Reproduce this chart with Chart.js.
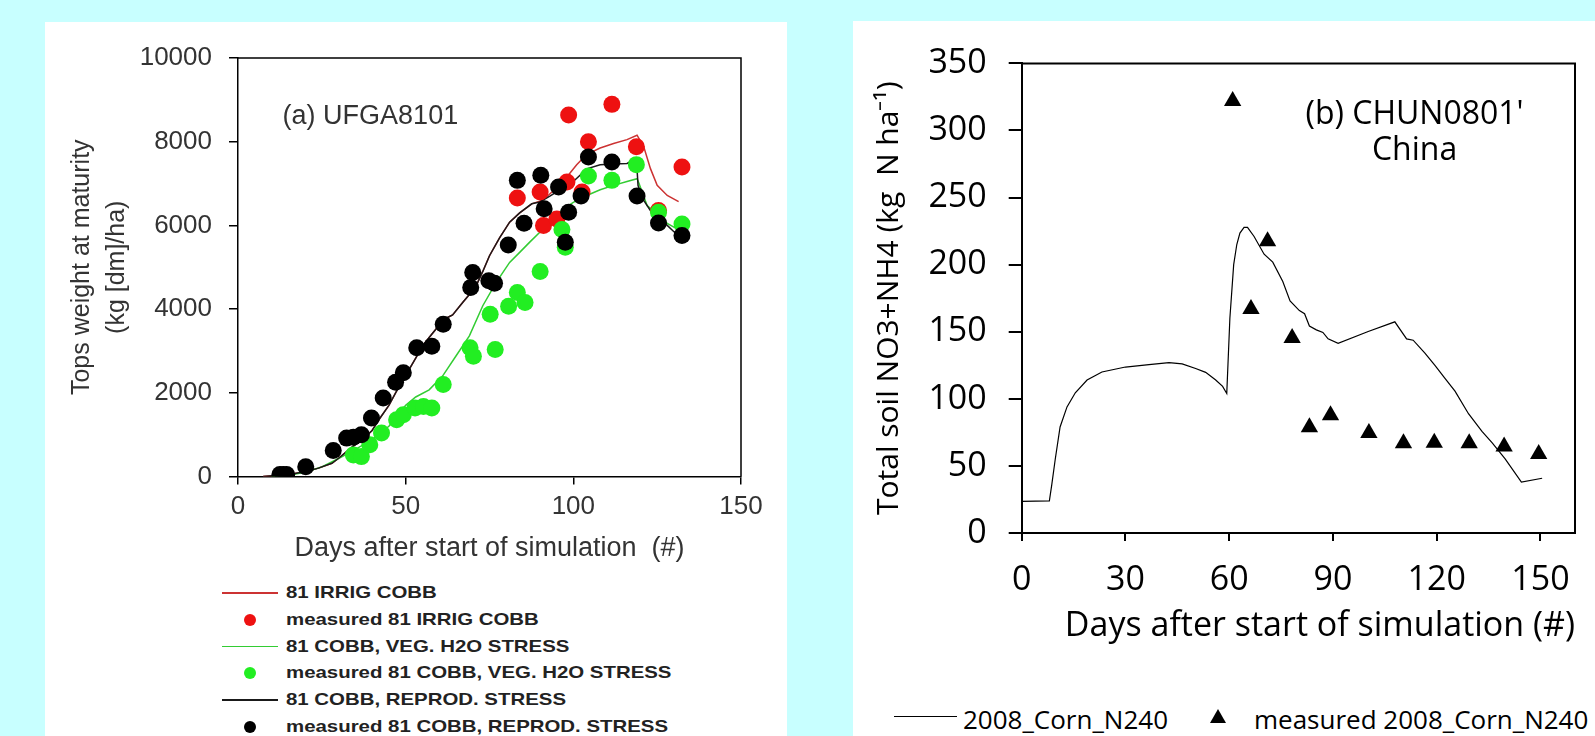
<!DOCTYPE html>
<html>
<head>
<meta charset="utf-8">
<style>
    body {
        margin: 0;
        width: 1595px;
        height: 736px;
        overflow: hidden;
        background-color: #c8ffff;
        position: relative;
    }
    .panel {
        position: absolute;
        background: white;
    }
    #panelLeft { left: 45px; top: 22px; width: 742px; height: 714px; }
    #panelRight { left: 853px; top: 21px; width: 742px; height: 715px; }
    .chart-box { position: absolute; left: 0; top: 0; width: 742px; }
    #panelLeft .chart-box { height: 543px; }
    #panelRight .chart-box { height: 626px; }

    /* legend under panel (a) */
    .legend-a .row {
        position: absolute;
        left: 0;
        height: 20px;
        width: 700px;
    }
    .legend-a .line { position: absolute; left: 177px; width: 56px; top: 9px; height: 1.5px; }
    .legend-a .dot { position: absolute; left: 199px; top: 4px; width: 12px; height: 12px; border-radius: 50%; }
    .legend-a .txt {
        position: absolute;
        left: 241px;
        top: 0;
        line-height: 20px;
        font: bold 17px 'Liberation Sans', Arial, sans-serif;
        color: #222;
        white-space: nowrap;
        transform: scaleX(1.2);
        transform-origin: left center;
    }

    /* legend under panel (b) */
    .legend-b { position: absolute; left: 0; top: 680px; height: 30px; width: 742px; }
    .legend-b .line { position: absolute; left: 41px; width: 63px; top: 15px; height: 1px; background: #000; }
    .legend-b .tri {
        position: absolute; left: 357px; top: 8px; width: 0; height: 0;
        border-left: 8px solid transparent; border-right: 8px solid transparent;
        border-bottom: 14px solid #000;
    }
    .legend-b .txt {
        position: absolute; top: 0; line-height: 30px;
        font: 26px 'Open Sans', sans-serif; color: #000; white-space: nowrap;
    }
</style>
</head>
<body>
    <div class="panel" id="panelLeft">
        <div class="chart-box"><canvas id="chartA"></canvas></div>
        <div class="legend-a" id="legendA"></div>
    </div>
    <div class="panel" id="panelRight">
        <div class="chart-box"><canvas id="chartB"></canvas></div>
        <div class="legend-b" id="legendB"></div>
    </div>

<script src="https://cdn.jsdelivr.net/npm/chart.js"></script>
<script>
// ---- panel (a): tops weight, UFGA8101 ----
const aSeriesNames = [
    '81 IRRIG COBB',
    'measured 81 IRRIG COBB',
    '81 COBB, VEG. H2O STRESS',
    'measured 81 COBB, VEG. H2O STRESS',
    '81 COBB, REPROD. STRESS',
    'measured 81 COBB, REPROD. STRESS'
];
const aXTicks = [0, 50, 100, 150];
const aYTicks = [0, 2000, 4000, 6000, 8000, 10000];

const irrigSimDays = [7.5, 12, 16, 20, 24, 28, 30, 34, 37, 40, 42, 45, 47, 49, 51, 53, 55, 57, 59, 61, 62.5, 64, 67, 69, 71, 73, 75, 78, 81, 84, 87.6, 90, 92, 95, 98, 101, 104, 108, 112, 116, 119, 121, 123, 125, 128, 131.4];
const irrigSimWeight = [0, 30, 60, 115, 200, 316, 436, 700, 876, 1100, 1356, 1700, 2000, 2280, 2556, 2830, 3115, 3320, 3516, 3700, 3800, 3860, 4156, 4350, 4555, 4900, 5275, 5700, 6076, 6300, 6516, 6580, 6680, 6900, 7150, 7450, 7700, 7850, 7956, 8050, 8155, 7877, 7356, 6956, 6716, 6570];

const vegSimDays = [10, 15, 20, 25, 30, 35, 40, 45, 48, 50, 53, 57, 61, 65, 69, 73, 77, 81, 84, 87, 90, 94, 97, 100, 104, 108, 112, 116, 119, 119.6, 122, 125.4, 128, 132.4];
const vegSimWeight = [0, 30, 100, 230, 430, 650, 880, 1200, 1500, 1700, 1900, 2070, 2400, 2880, 3360, 4080, 4640, 5116, 5356, 5600, 5836, 6150, 6396, 6550, 6716, 6850, 6956, 7050, 7116, 7000, 6476, 6250, 6050, 5850];

const reprodSimDays = [7.5, 12, 16, 20, 24, 28, 30, 34, 37, 40, 42, 45, 47, 49, 51, 53, 55, 57, 59, 61, 62.5, 64, 67, 69, 71, 73, 75, 78, 81, 84, 87.6, 90, 93, 96, 100, 104, 108, 112, 116, 118.8, 119.3, 121, 123, 125.4, 128, 130, 132.4];
const reprodSimWeight = [0, 30, 60, 115, 200, 316, 436, 700, 876, 1100, 1356, 1700, 2000, 2280, 2556, 2830, 3115, 3320, 3516, 3700, 3800, 3860, 4156, 4350, 4555, 4900, 5275, 5700, 6076, 6300, 6516, 6560, 6700, 6850, 7050, 7350, 7450, 7470, 7480, 7600, 6950, 6600, 6350, 6250, 6000, 5850, 5700];

const irrigObsDays = [83.3, 90.1, 91.1, 95.1, 98.1, 98.6, 102.6, 104.5, 111.5, 118.8, 125.4, 132.4];
const irrigObsWeight = [6655, 6796, 5996, 6155, 7036, 8636, 6796, 7997, 8892, 7877, 6355, 7397];

const vegObsDays = [34.4, 36.8, 39.3, 42.8, 47.3, 49.3, 52.8, 55.3, 57.8, 61.2, 69.2, 70.2, 75.2, 76.7, 80.7, 83.3, 85.6, 90.1, 96.6, 97.6, 104.5, 111.5, 118.8, 125.4, 132.4];
const vegObsWeight = [516, 475, 756, 1037, 1356, 1476, 1637, 1675, 1637, 2196, 3077, 2875, 3876, 3036, 4070, 4396, 4156, 4900, 5900, 5476, 7180, 7076, 7452, 6316, 6036];

const reprodObsDays = [12.5, 13.5, 14.5, 20.2, 28.4, 32.4, 34.4, 36.8, 39.8, 43.3, 47.0, 49.3, 53.3, 57.8, 61.2, 69.4, 70.0, 74.8, 76.5, 80.6, 83.3, 85.3, 90.3, 91.3, 95.6, 97.6, 98.6, 102.3, 104.5, 111.5, 119.0, 125.4, 132.4];
const reprodObsWeight = [50, 50, 50, 235, 620, 917, 940, 996, 1397, 1877, 2250, 2477, 3077, 3115, 3636, 4517, 4877, 4680, 4620, 5530, 7076, 6050, 7196, 6396, 6916, 5596, 6316, 6700, 7636, 7516, 6700, 6060, 5756];

// ---- panel (b): soil N, CHUN0801 ----
const bSeriesNames = ['2008_Corn_N240', 'measured 2008_Corn_N240'];
const bXTicks = [0, 30, 60, 90, 120, 150];
const bYTicks = [0, 50, 100, 150, 200, 250, 300, 350];

const soilSimDays = [0, 8, 8.7, 9.7, 11.1, 13.1, 15.5, 18.9, 23.2, 30, 36.8, 42.6, 46.4, 50.3, 53.2, 56.1, 58.1, 59.3, 60.2, 61.3, 62.2, 63.1, 64.3, 65.3, 67.2, 70.1, 72.6, 75.5, 77.6, 80.3, 81.8, 83.2, 85.2, 87.1, 88.6, 91.5, 100.2, 107.9, 111.3, 113.2, 116.6, 119.5, 122.4, 125.3, 129.2, 133.1, 136, 139.8, 144.5, 150.5];
const soilSimN = [23.5, 24, 36, 55, 79, 94, 104.5, 114, 120, 123.7, 125.5, 127, 126, 122.6, 119.7, 114, 109.3, 104, 160, 200, 215, 223.5, 227.8, 227.8, 221, 207.8, 201.9, 187.5, 173, 165.8, 163.4, 154.3, 151.4, 149.5, 144.7, 141.3, 150.2, 157.4, 144.7, 143.7, 134.1, 124.9, 115.3, 105.7, 88.9, 75.7, 67.3, 55.3, 38, 40.8];

const soilObsDays = [61, 66.3, 71.1, 78.2, 83.2, 89.3, 100.4, 110.4, 119.3, 129.4, 139.5, 149.5];
const soilObsN = [322, 167, 217.5, 145.4, 78.8, 87.7, 74.5, 66.8, 67.3, 66.8, 64.4, 58.8];

function pts(xs, ys) {
    return xs.map((x, i) => ({ x: x, y: ys[i] }));
}

// box around the plot area plus the panel label
const framePlugin = {
    id: 'frame',
    afterDraw(chart, args, opts) {
        const { ctx, chartArea } = chart;
        const xs = chart.scales.x, ys = chart.scales.y;
        ctx.save();
        ctx.strokeStyle = '#000';
        ctx.lineWidth = opts.width;
        ctx.beginPath();
        ctx.moveTo(chartArea.left, chartArea.top);
        ctx.lineTo(chartArea.right, chartArea.top);
        ctx.lineTo(chartArea.right, chartArea.bottom);
        ctx.stroke();
        ctx.font = opts.font;
        ctx.fillStyle = opts.color;
        ctx.textAlign = opts.align;
        ctx.textBaseline = 'middle';
        opts.lines.forEach(l => {
            ctx.fillText(l.text, xs.getPixelForValue(l.x), ys.getPixelForValue(l.y));
        });
        ctx.restore();
    }
};

const arial = "'Liberation Sans', Arial, sans-serif";
const openSans = "'Open Sans', sans-serif";
const plain = v => String(v);

const chartA = new Chart(document.getElementById('chartA'), {
    type: 'scatter',
    data: {
        datasets: [
            { label: aSeriesNames[5], data: pts(reprodObsDays, reprodObsWeight), backgroundColor: '#000', borderWidth: 0, pointRadius: 8.5 },
            { label: aSeriesNames[3], data: pts(vegObsDays, vegObsWeight), backgroundColor: '#22ee22', borderWidth: 0, pointRadius: 8.5 },
            { label: aSeriesNames[1], data: pts(irrigObsDays, irrigObsWeight), backgroundColor: '#ee1111', borderWidth: 0, pointRadius: 8.5 },
            { label: aSeriesNames[4], data: pts(reprodSimDays, reprodSimWeight), showLine: true, borderColor: '#1a1a1a', borderWidth: 1.5, pointRadius: 0 },
            { label: aSeriesNames[2], data: pts(vegSimDays, vegSimWeight), showLine: true, borderColor: '#33cc33', borderWidth: 1.5, pointRadius: 0 },
            { label: aSeriesNames[0], data: pts(irrigSimDays, irrigSimWeight), showLine: true, borderColor: '#cc3333', borderWidth: 1.5, pointRadius: 0 }
        ]
    },
    options: {
        responsive: true,
        maintainAspectRatio: false,
        animation: false,
        layout: { padding: { top: 36, right: 46, left: 0, bottom: 0 } },
        plugins: {
            legend: { display: false },
            tooltip: { enabled: false },
            frame: {
                width: 1.5, color: '#333', align: 'left', font: '27px ' + arial,
                lines: [{ text: '(a) UFGA8101', x: 13.3, y: 8600 }]
            }
        },
        scales: {
            x: {
                type: 'linear', min: 0, max: 150,
                afterBuildTicks: s => { s.ticks = aXTicks.map(v => ({ value: v })); },
                afterFit: s => { s.height = 88.5; },
                border: { display: true, color: '#000', width: 1.5 },
                grid: { drawOnChartArea: false, drawTicks: true, tickLength: 8, color: '#000', lineWidth: 1.5 },
                ticks: { font: { family: arial, size: 26 }, color: '#333', padding: 7, callback: plain },
                title: {
                    display: true, text: 'Days after start of simulation  (#)',
                    font: { family: arial, size: 27 }, color: '#333', padding: { top: 0, bottom: 0 }
                }
            },
            y: {
                type: 'linear', min: 0, max: 10000,
                afterBuildTicks: s => { s.ticks = aYTicks.map(v => ({ value: v })); },
                afterFit: s => { s.width = 193; },
                border: { display: true, color: '#000', width: 1.5 },
                grid: { drawOnChartArea: false, drawTicks: true, tickLength: 9, color: '#000', lineWidth: 1.5 },
                ticks: { font: { family: arial, size: 26 }, color: '#333', padding: 17, callback: plain },
                title: {
                    display: true, text: ['Tops weight at maturity', '(kg [dm]/ha)'],
                    font: { family: arial, size: 25, lineHeight: 1.4 }, color: '#333',
                    padding: { top: 19.5, bottom: 0 }
                }
            }
        }
    },
    plugins: [framePlugin]
});

const chartB = new Chart(document.getElementById('chartB'), {
    type: 'scatter',
    data: {
        datasets: [
            { label: bSeriesNames[1], data: pts(soilObsDays, soilObsN), pointStyle: 'triangle', backgroundColor: '#000', borderWidth: 0, pointRadius: 10 },
            { label: bSeriesNames[0], data: pts(soilSimDays, soilSimN), showLine: true, borderColor: '#000', borderWidth: 1.2, pointRadius: 0 }
        ]
    },
    options: {
        responsive: true,
        maintainAspectRatio: false,
        animation: false,
        layout: { padding: { top: 27, right: 20, left: 0, bottom: 0 } },
        plugins: {
            legend: { display: false },
            tooltip: { enabled: false },
            frame: {
                width: 2, color: '#000', align: 'center', font: '32px ' + openSans,
                lines: [
                    { text: "(b) CHUN0801'", x: 113.6, y: 311.5 },
                    { text: 'China', x: 113.6, y: 284.8 }
                ]
            }
        },
        scales: {
            x: {
                type: 'linear', min: 0, max: 160,
                afterBuildTicks: s => { s.ticks = bXTicks.map(v => ({ value: v })); },
                afterFit: s => { s.height = 114; },
                border: { display: true, color: '#000', width: 2 },
                grid: { drawOnChartArea: false, drawTicks: true, tickLength: 8, color: '#000', lineWidth: 2 },
                ticks: { font: { family: openSans, size: 34 }, color: '#000', padding: 18.6, callback: plain },
                title: {
                    display: true, text: 'Days after start of simulation (#)', align: 'end',
                    font: { family: openSans, size: 34 }, color: '#000', padding: { top: 0, bottom: 0 }
                }
            },
            y: {
                type: 'linear', min: 0, max: 350,
                afterBuildTicks: s => { s.ticks = bYTicks.map(v => ({ value: v })); },
                afterFit: s => { s.width = 168.7; },
                border: { display: true, color: '#000', width: 2 },
                grid: { drawOnChartArea: false, drawTicks: true, tickLength: 13, color: '#000', lineWidth: 2 },
                ticks: { font: { family: openSans, size: 34 }, color: '#000', padding: 22, callback: plain },
                title: {
                    display: true, text: 'Total soil NO3+NH4 (kg  N ha\u207B\u00B9)',
                    font: { family: openSans, size: 30 }, color: '#000', padding: { top: 18, bottom: 0 }
                }
            }
        }
    },
    plugins: [framePlugin]
});

// html legend for (a): one entry per row, in the order of the names list
const legendA = document.getElementById('legendA');
const aStyle = [
    { kind: 'line', color: '#cc3333' },
    { kind: 'dot', color: '#ee1111' },
    { kind: 'line', color: '#33cc33' },
    { kind: 'dot', color: '#22ee22' },
    { kind: 'line', color: '#1a1a1a' },
    { kind: 'dot', color: '#000' }
];
aSeriesNames.forEach((name, i) => {
    const row = document.createElement('div');
    row.className = 'row';
    row.style.top = (561 + i * 26.8) + 'px';
    const mark = document.createElement('div');
    mark.className = aStyle[i].kind;
    mark.style.background = aStyle[i].color;
    const txt = document.createElement('div');
    txt.className = 'txt';
    txt.textContent = name;
    row.appendChild(mark);
    row.appendChild(txt);
    legendA.appendChild(row);
});

// html legend for (b): both entries on one line
const legendB = document.getElementById('legendB');
legendB.innerHTML =
    '<div class="line"></div><div class="txt" style="left:110px">' + bSeriesNames[0] + '</div>' +
    '<div class="tri"></div><div class="txt" style="left:401px">' + bSeriesNames[1] + '</div>';
</script>
</body>
</html>
